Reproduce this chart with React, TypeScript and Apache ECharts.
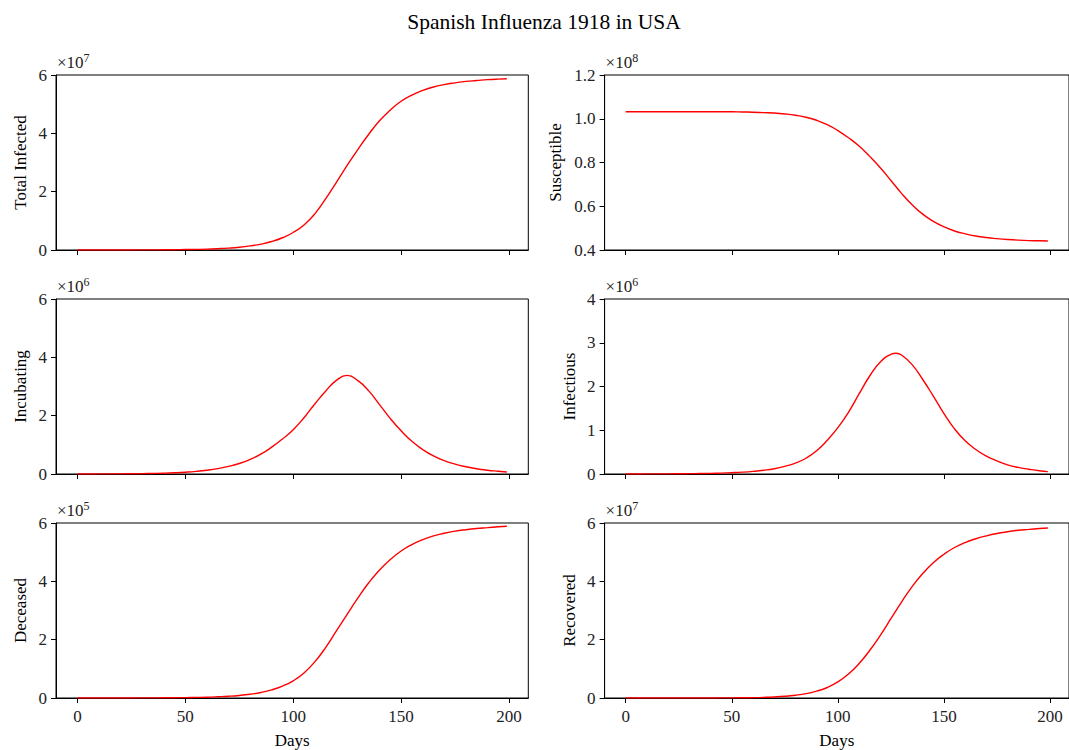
import React, { useEffect, useRef } from "react";
import * as echarts from "echarts";

const days = [0, 5, 10, 15, 20, 25, 30, 35, 40, 45, 50, 55, 60, 65, 70, 75, 80, 85, 90, 95, 100, 105, 110, 115, 120, 125, 130, 135, 140, 145, 150, 155, 160, 165, 170, 175, 180, 185, 190, 195, 199];
// Infectious panel also has its peak day sampled
const infectiousDays = [0, 5, 10, 15, 20, 25, 30, 35, 40, 45, 50, 55, 60, 65, 70, 75, 80, 85, 90, 95, 100, 105, 110, 115, 120, 125, 127.5, 130, 135, 140, 145, 150, 155, 160, 165, 170, 175, 180, 185, 190, 195, 199];

// values in units of the panel multiplier
const totalInfected = [0.0004, 0.0006, 0.0008, 0.0012, 0.0017, 0.0025, 0.0035, 0.005, 0.007, 0.01, 0.015, 0.021, 0.03, 0.045, 0.065, 0.095, 0.14, 0.2, 0.29, 0.42, 0.6, 0.86, 1.24, 1.75, 2.32, 2.9, 3.45, 3.97, 4.43, 4.8, 5.1, 5.31, 5.47, 5.59, 5.67, 5.73, 5.78, 5.81, 5.84, 5.86, 5.87]; // x1e7
const susceptible = [1.032, 1.032, 1.032, 1.032, 1.032, 1.032, 1.032, 1.032, 1.032, 1.032, 1.032, 1.031, 1.03, 1.028, 1.026, 1.022, 1.016, 1.007, 0.993, 0.973, 0.946, 0.913, 0.875, 0.828, 0.776, 0.718, 0.659, 0.607, 0.564, 0.531, 0.506, 0.487, 0.474, 0.464, 0.457, 0.452, 0.448, 0.445, 0.443, 0.442, 0.441]; // x1e8
const incubating = [0.0015, 0.002, 0.003, 0.004, 0.006, 0.009, 0.013, 0.019, 0.028, 0.042, 0.062, 0.09, 0.13, 0.185, 0.26, 0.36, 0.5, 0.68, 0.92, 1.2, 1.52, 1.93, 2.4, 2.84, 3.21, 3.38, 3.2, 2.85, 2.38, 1.9, 1.48, 1.12, 0.84, 0.62, 0.46, 0.34, 0.25, 0.18, 0.13, 0.095, 0.07]; // x1e6
const infectious = [0.001, 0.0015, 0.002, 0.003, 0.004, 0.006, 0.008, 0.011, 0.015, 0.021, 0.03, 0.042, 0.06, 0.085, 0.12, 0.175, 0.25, 0.36, 0.53, 0.77, 1.06, 1.41, 1.83, 2.24, 2.56, 2.735, 2.76, 2.72, 2.5, 2.16, 1.78, 1.38, 1.03, 0.76, 0.56, 0.41, 0.3, 0.21, 0.15, 0.11, 0.075, 0.055]; // x1e6
const deceased = [0.0004, 0.0006, 0.0008, 0.0012, 0.0017, 0.0025, 0.0035, 0.005, 0.007, 0.01, 0.014, 0.02, 0.028, 0.042, 0.06, 0.088, 0.13, 0.19, 0.28, 0.41, 0.59, 0.86, 1.24, 1.73, 2.3, 2.87, 3.43, 3.95, 4.39, 4.75, 5.04, 5.26, 5.43, 5.56, 5.65, 5.72, 5.77, 5.81, 5.84, 5.87, 5.89]; // x1e5
const recovered = [0.0001, 0.0001, 0.0002, 0.0003, 0.0004, 0.0006, 0.0009, 0.0013, 0.002, 0.003, 0.005, 0.008, 0.013, 0.022, 0.036, 0.058, 0.095, 0.15, 0.235, 0.36, 0.55, 0.82, 1.18, 1.63, 2.15, 2.72, 3.29, 3.82, 4.27, 4.64, 4.93, 5.16, 5.33, 5.46, 5.56, 5.64, 5.7, 5.75, 5.78, 5.81, 5.83]; // x1e7

const xTicks = [0, 50, 100, 150, 200];
const titleText = "Spanish Influenza 1918 in USA";
const xName = "Days";

const panels = [
  { name: "Total Infected", x: days, data: totalInfected, exp: 7, min: 0, max: 6, interval: 2, dec: 0, col: 0, row: 0, gap: 27 },
  { name: "Susceptible", x: days, data: susceptible, exp: 8, min: 0.4, max: 1.2, interval: 0.2, dec: 1, col: 1, row: 0, gap: 41 },
  { name: "Incubating", x: days, data: incubating, exp: 6, min: 0, max: 6, interval: 2, dec: 0, col: 0, row: 1, gap: 27 },
  { name: "Infectious", x: infectiousDays, data: infectious, exp: 6, min: 0, max: 4, interval: 1, dec: 0, col: 1, row: 1, gap: 27 },
  { name: "Deceased", x: days, data: deceased, exp: 5, min: 0, max: 6, interval: 2, dec: 0, col: 0, row: 2, gap: 27 },
  { name: "Recovered", x: days, data: recovered, exp: 7, min: 0, max: 6, interval: 2, dec: 0, col: 1, row: 2, gap: 27 },
];

const FONT = "'Liberation Serif', 'DejaVu Serif', serif";
const colLeft = [56, 604.6];
const gridW = 472.3;
const rowTop = [75, 299, 523];
const gridH = 175;

export default function App() {
  const ref = useRef<HTMLDivElement>(null);
  useEffect(() => {
    document.body.style.margin = "0";
    const chart = echarts.init(ref.current!, null, { renderer: "svg" });
    const option: any = {
      animation: false,
      backgroundColor: "#fff",
      grid: panels.map((p) => ({
        left: colLeft[p.col],
        top: rowTop[p.row],
        width: gridW,
        height: gridH,
        show: true,
        borderColor: "#000",
        borderWidth: 1,
        backgroundColor: "transparent",
      })),
      xAxis: panels.map((p, i) => ({
        type: "value",
        gridIndex: i,
        min: -9.95,
        max: 208.95,
        splitLine: { show: false },
        axisLine: { show: true, onZero: false, lineStyle: { color: "#000", width: 1 } },
        axisTick: { show: true, customValues: xTicks, length: 5, lineStyle: { color: "#000" } },
        axisLabel: {
          show: p.row === 2,
          customValues: xTicks,
          margin: 10,
          fontFamily: FONT,
          fontSize: 17,
          color: "#222",
        },
        name: p.row === 2 ? xName : "",
        nameLocation: "middle",
        nameGap: 34,
        nameTextStyle: { fontFamily: FONT, fontSize: 17, color: "#000" },
      })),
      yAxis: panels.map((p, i) => ({
        type: "value",
        gridIndex: i,
        min: p.min,
        max: p.max,
        interval: p.interval,
        splitLine: { show: false },
        axisLine: { show: true, onZero: false, lineStyle: { color: "#000", width: 1 } },
        axisTick: { show: true, length: 5, lineStyle: { color: "#000" } },
        axisLabel: {
          margin: 9,
          fontFamily: FONT,
          fontSize: 17,
          color: "#222",
          formatter: (v: number) => v.toFixed(p.dec),
        },
        name: p.name,
        nameLocation: "middle",
        nameGap: p.gap,
        nameTextStyle: { fontFamily: FONT, fontSize: 17, color: "#000" },
      })),
      series: panels.map((p, i) => ({
        type: "line",
        xAxisIndex: i,
        yAxisIndex: i,
        data: p.x.map((d, k) => [d, p.data[k]]),
        showSymbol: false,
        smooth: 0.5,
        lineStyle: { color: "#ff0000", width: 1.4 },
        itemStyle: { color: "#ff0000" },
      })),
      graphic: [
        {
          type: "text",
          x: 544,
          y: 22,
          style: {
            text: titleText,
            align: "center",
            verticalAlign: "middle",
            fontFamily: FONT,
            fontSize: 21.5,
            fill: "#000",
          },
        },
        ...panels.map((p) => ({
          type: "text",
          x: colLeft[p.col] + 1,
          y: rowTop[p.row] - 2,
          style: {
            text: `{a|×10}{b|${p.exp}}`,
            verticalAlign: "bottom",
            rich: {
              a: { fontFamily: FONT, fontSize: 17, fill: "#222" },
              b: { fontFamily: FONT, fontSize: 12, fill: "#222", verticalAlign: "top", padding: [0, 0, 9, 0] },
            },
          },
        })),
      ],
    };
    chart.setOption(option);
    return () => chart.dispose();
  }, []);
  return <div ref={ref} style={{ width: 1069, height: 750 }} />;
}
